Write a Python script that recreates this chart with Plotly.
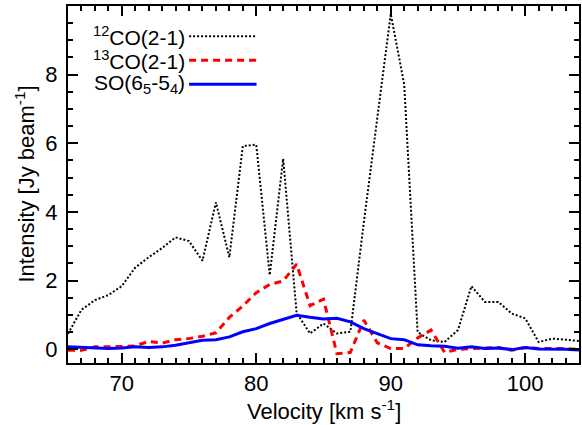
import plotly.graph_objects as go

# Velocity channels (km/s)
velocity = list(range(66, 105))

# 12CO(2-1) intensity (Jy/beam)
co12 = [0.45, 1.15, 1.43, 1.58, 1.84, 2.38, 2.68, 2.95, 3.26, 3.15,
        2.58, 4.28, 2.68, 5.92, 5.96, 2.16, 5.55, 1.06, 0.46, 0.75,
        0.46, 0.51, 3.70, 6.70, 9.77, 7.72, 0.50, 0.26, 0.21, 0.56,
        1.84, 1.38, 1.38, 1.04, 0.90, 0.21, 0.31, 0.28, 0.24]

# 13CO(2-1) intensity (Jy/beam)
co13 = [-0.03, -0.03, 0.07, 0.07, 0.08, 0.10, 0.23, 0.18, 0.28, 0.31,
        0.38, 0.48, 0.93, 1.26, 1.65, 1.89, 1.99, 2.48, 1.27, 1.46,
        -0.13, -0.09, 0.85, 0.19, 0.02, 0.02, 0.33, 0.56, -0.09, 0.00,
        0.02, 0.02, 0.05, -0.03, 0.05, 0.02, 0.02, 0.02, -0.01]

# SO(6_5-5_4) intensity (Jy/beam)
so = [0.07, 0.06, 0.04, 0.02, 0.04, 0.07, 0.05, 0.07, 0.12, 0.18,
      0.26, 0.28, 0.36, 0.51, 0.60, 0.75, 0.87, 0.99, 0.93, 0.88,
      0.90, 0.80, 0.60, 0.46, 0.31, 0.28, 0.13, 0.10, 0.09, 0.03,
      0.07, 0.02, 0.04, -0.01, 0.05, 0.01, 0.01, 0.00, -0.02]

labels = ["<sup>12</sup>CO(2-1)", "<sup>13</sup>CO(2-1)", "SO(6<sub>5</sub>-5<sub>4</sub>)"]
colors = ["black", "red", "blue"]
dashes = ["2px,2px", "7px,5px", "solid"]
widths = [2, 3, 3]

FONT = "Liberation Sans, Arial, Helvetica, sans-serif"
AX_SIZE = 22

fig = go.Figure()
for ys, name, c, d, w in zip([co12, co13, so], labels, colors, dashes, widths):
    fig.add_trace(go.Scatter(x=velocity, y=ys, mode="lines", name=name,
                             line=dict(color=c, dash=d, width=w),
                             showlegend=False))

# Legend drawn as text with a line sample to the right of each label
leg_y = [0.915, 0.848, 0.781]
for name, c, d, w, yy in zip(labels, colors, dashes, widths, leg_y):
    fig.add_annotation(xref="paper", yref="paper", x=0.232, y=yy,
                       text=name, showarrow=False, xanchor="right",
                       yanchor="middle", font=dict(size=21, color="black", family=FONT))
    fig.add_shape(type="line", xref="paper", yref="paper",
                  x0=0.237, x1=0.369, y0=yy, y1=yy,
                  line=dict(color=c, dash=d, width=w))

# Axis titles
fig.add_annotation(xref="paper", yref="paper", x=0.5, y=0, yshift=-47,
                   text="Velocity [km s<sup>-1</sup>]", showarrow=False,
                   xanchor="center", yanchor="middle",
                   font=dict(size=AX_SIZE, color="black", family=FONT))
fig.add_annotation(xref="paper", yref="paper", x=0, y=0.5, xshift=-44,
                   text="Intensity [Jy beam<sup>-1</sup>]", showarrow=False,
                   textangle=-90, xanchor="center", yanchor="middle",
                   font=dict(size=AX_SIZE, color="black", family=FONT))

axis_common = dict(
    showline=True, linecolor="black", linewidth=2, mirror="allticks",
    ticks="inside", tickcolor="black", tickwidth=1.5, ticklen=10,
    showgrid=False, zeroline=False,
    tickfont=dict(size=AX_SIZE, color="black", family=FONT),
    minor=dict(ticks="inside", ticklen=5, tickcolor="black", tickwidth=1.5, showgrid=False),
)

fig.update_xaxes(range=[66, 104], dtick=10, tick0=0, ticklabelstandoff=0,
                 **axis_common)
fig.update_xaxes(minor_dtick=1)
fig.update_yaxes(range=[-0.4, 10.0], dtick=2, tick0=0, ticklabelstandoff=4,
                 **axis_common)
fig.update_yaxes(minor_dtick=0.5)

fig.update_layout(width=582, height=425,
                  margin=dict(l=68, r=1, t=6, b=62),
                  plot_bgcolor="white", paper_bgcolor="white",
                  font=dict(family=FONT, color="black"))

fig.write_html("out.html")
